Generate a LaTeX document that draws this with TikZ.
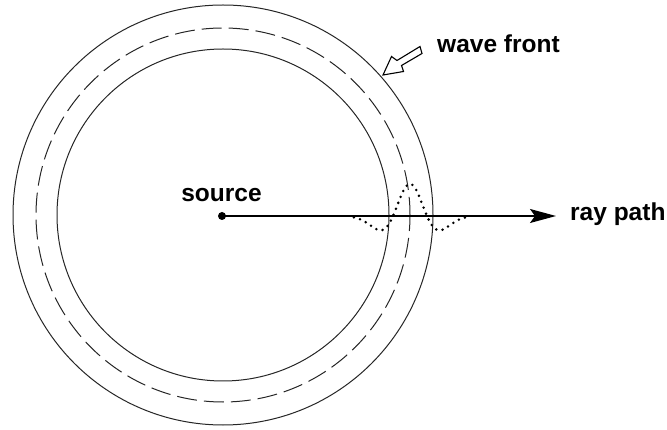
\documentclass[tikz,border=0pt]{standalone}
\usepackage{fontspec}
\setmainfont{Liberation Sans}
\usetikzlibrary{arrows.meta}
\begin{document}
\begin{tikzpicture}[x=1pt,y=-1pt,
  ring/.style={draw=black!85,line width=1pt},
  lbl/.style={font=\fontsize{24.5}{28}\selectfont\bfseries,anchor=base west,inner sep=0pt},
  wavelet/.style={line width=2.8pt,line cap=round,dash pattern=on 0pt off 6.4pt,black}]
\useasboundingbox (0,0) rectangle (667,430);
\coordinate (c) at (223,215);
\draw[ring] (c) circle[radius=210];
\draw[ring] (c) circle[radius=166];
\draw[ring,dash pattern=on 20pt off 7pt,dash phase=4pt] (c) circle[radius=187];
% wavelet
\draw[wavelet] plot[domain=-3.3:3.3,samples=120,smooth]
  ({410+17*\x},{216-32*(1-2*\x*\x/2)*exp(-\x*\x/2)});
% source and ray
\node[circle,fill=black,inner sep=0pt,minimum size=8pt] (src) at (222,216) {};
\coordinate (tip) at (556,216);
\draw[line width=1.2pt,-{Stealth[length=26pt,width=14pt,inset=5pt]}] (src.center) -- (tip);
\node[lbl,anchor=base] (srclbl) at (221.5,202) {source};
\node[lbl] (ray) at (570,221) {ray path};
\node[lbl] (wf) at (437,53) {wave front};
% hollow arrow
\draw[line width=1.1pt,fill=white,line join=miter]
  (383,75) -- (391.5,56.5) -- (397,60.5) -- (420,46.5) -- (422,53.5)
  -- (401.5,65.5) -- (403.5,71.5) -- cycle;
\end{tikzpicture}
\end{document}
